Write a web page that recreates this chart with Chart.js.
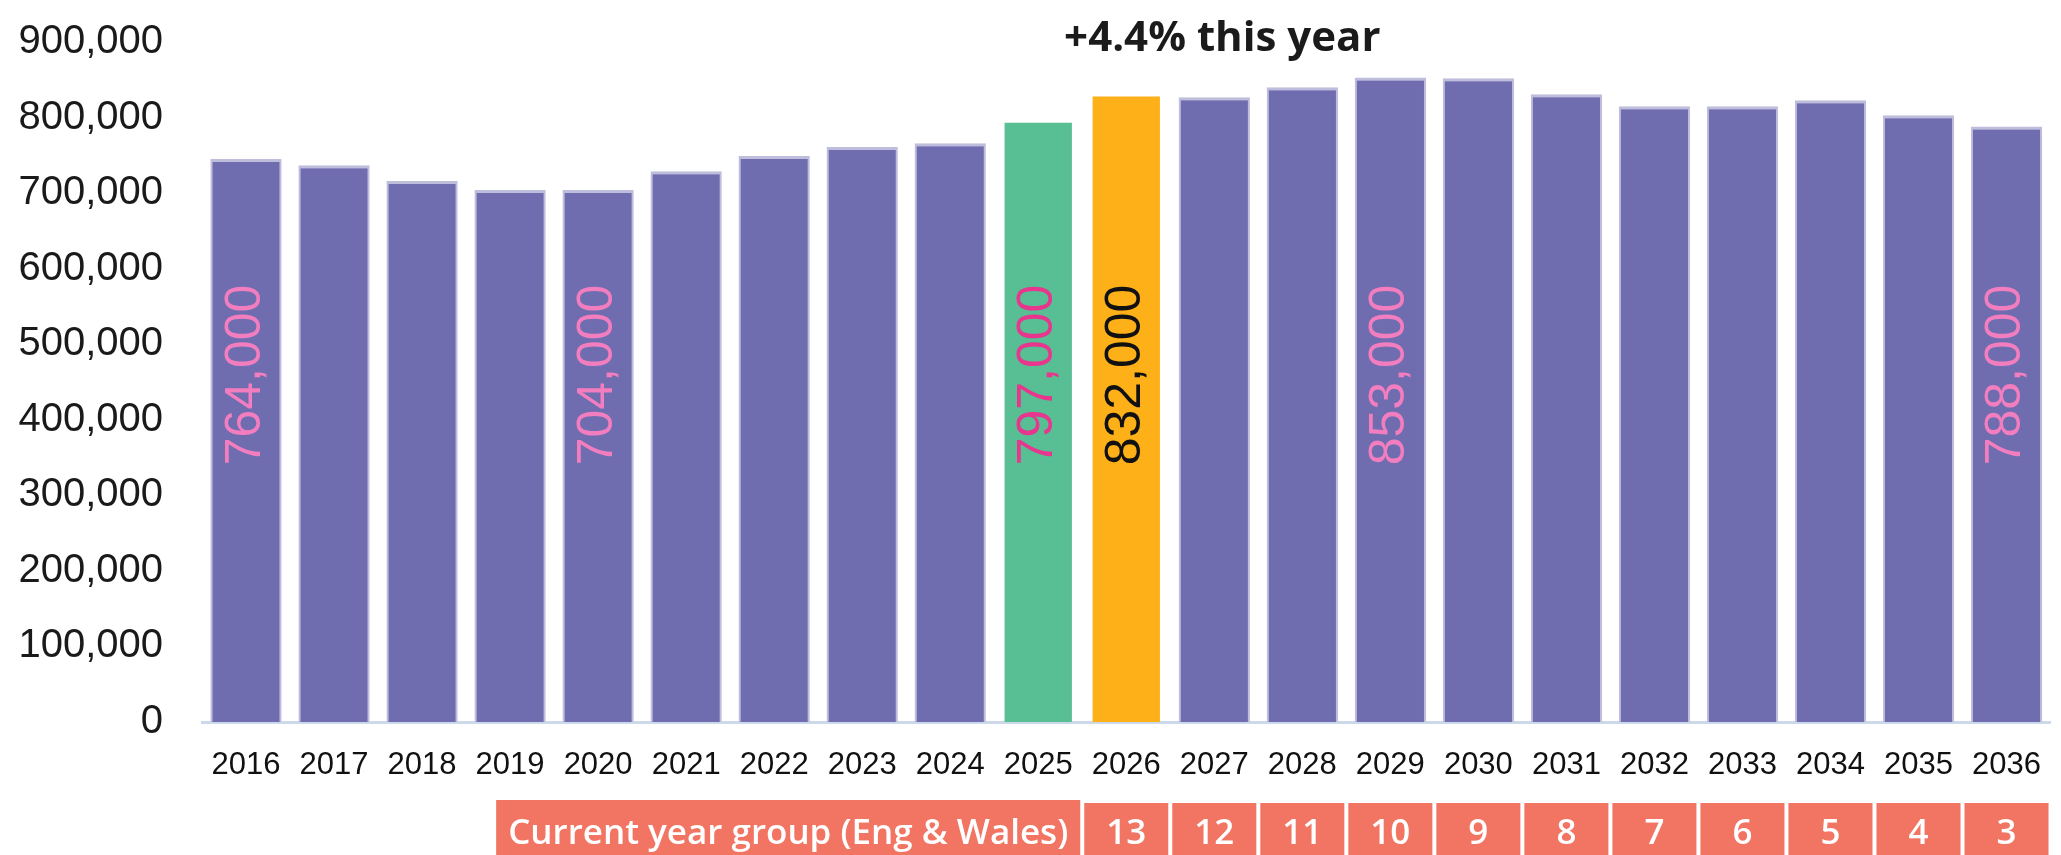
<!DOCTYPE html>
<html>
<head>
<meta charset="utf-8">
<script src="https://cdn.jsdelivr.net/npm/chart.js@4.4.1/dist/chart.umd.min.js"></script>
<style>
  html, body { margin: 0; padding: 0; background: #fff; overflow: hidden; }
  #wrap { width: 2066px; height: 855px; position: relative; }
</style>
</head>
<body>
<div id="wrap"><canvas id="pupilsChart"></canvas></div>
<script>
// Data
const years = ['2016', '2017', '2018', '2019', '2020', '2021', '2022', '2023', '2024', '2025', '2026',
               '2027', '2028', '2029', '2030', '2031', '2032', '2033', '2034', '2035', '2036'];
const pupils = [745000, 737000, 716000, 704000, 704000, 729000, 749000, 761000, 766000, 797000, 832000,
                827000, 840000, 853000, 852000, 831000, 815000, 815000, 823000, 803000, 788000];
const barLabels = ['764,000', null, null, null, '704,000', null, null, null, null, '797,000', '832,000',
                   null, null, '853,000', null, null, null, null, null, null, '788,000'];
const yearGroups = ['13', '12', '11', '10', '9', '8', '7', '6', '5', '4', '3'];
const yearGroupTitle = 'Current year group (Eng & Wales)';
const headline = '+4.4% this year';
const lastYearIndex = 9;   // 2025
const thisYearIndex = 10;  // 2026

const PURPLE = '#6f6db0';
const GREEN = '#58be93';
const ORANGE = '#fdb017';
const SALMON = '#f27462';

const barColours = years.map((y, i) => i === lastYearIndex ? GREEN : (i === thisYearIndex ? ORANGE : PURPLE));
const borderColours = years.map((y, i) => (i === lastYearIndex || i === thisYearIndex) ? 'rgba(0,0,0,0)' : '#bebddc');
const labelColours = years.map((y, i) => i === lastYearIndex ? '#e8358d' : (i === thisYearIndex ? '#111111' : '#f27dbf'));

// rotated value labels inside the bars
const barLabelPlugin = {
    id: 'barLabels',
    afterDatasetsDraw(chart) {
        const ctx = chart.ctx;
        const meta = chart.getDatasetMeta(0);
        const midY = (chart.chartArea.top + chart.chartArea.bottom) / 2 - 7;
        ctx.save();
        ctx.font = '50px "Liberation Sans", Arial, sans-serif';
        ctx.textAlign = 'center';
        ctx.textBaseline = 'middle';
        meta.data.forEach((bar, i) => {
            if (!barLabels[i]) return;
            ctx.save();
            ctx.translate(bar.x, midY);
            ctx.rotate(-Math.PI / 2);
            ctx.fillStyle = labelColours[i];
            ctx.fillText(barLabels[i], 0, 0);
            ctx.restore();
        });
        ctx.restore();
    }
};

// headline and the year-group strip under the axis
const extrasPlugin = {
    id: 'extras',
    afterDraw(chart) {
        const ctx = chart.ctx;
        const x = chart.scales.x;
        const half = (x.getPixelForValue(1) - x.getPixelForValue(0)) / 2;
        ctx.save();

        ctx.fillStyle = '#1b1b1b';
        ctx.font = 'bold 42px "Open Sans", sans-serif';
        ctx.textAlign = 'center';
        ctx.textBaseline = 'middle';
        ctx.fillText(headline, x.getPixelForValue(thisYearIndex + 1) + 8, 39);

        const top = 803;
        ctx.font = '600 35px "Open Sans", sans-serif';
        yearGroups.forEach((g, k) => {
            const c = x.getPixelForValue(thisYearIndex + k);
            ctx.fillStyle = SALMON;
            ctx.fillRect(c - half + 2, top, half * 2 - 4, chart.height - top);
            ctx.fillStyle = '#ffffff';
            ctx.fillText(g, c, 834);
        });

        const right = x.getPixelForValue(thisYearIndex) - half - 2;
        const w = ctx.measureText(yearGroupTitle).width + 24;
        ctx.fillStyle = SALMON;
        ctx.fillRect(right - w, top - 3, w, chart.height - top + 3);
        ctx.fillStyle = '#ffffff';
        ctx.fillText(yearGroupTitle, right - w / 2, 834);

        ctx.restore();
    }
};

const ctx = document.getElementById('pupilsChart').getContext('2d');
new Chart(ctx, {
    type: 'bar',
    data: {
        labels: years,
        datasets: [{
            data: pupils,
            backgroundColor: barColours,
            borderColor: borderColours,
            borderWidth: { top: 3, left: 2, right: 2, bottom: 0 },
            borderSkipped: 'start',
            barPercentage: 0.81,
            categoryPercentage: 1
        }]
    },
    options: {
        responsive: true,
        maintainAspectRatio: false,
        animation: false,
        layout: { padding: { top: 42, left: 0, right: 0, bottom: 0 } },
        plugins: {
            legend: { display: false },
            tooltip: { enabled: false },
            title: { display: false }
        },
        scales: {
            x: {
                grid: { display: false, drawTicks: false },
                border: { display: true, color: '#ccd9ea', width: 3 },
                ticks: {
                    color: '#111111',
                    font: { family: '"Liberation Sans", Arial, sans-serif', size: 31 },
                    padding: 25,
                    maxRotation: 0,
                    autoSkip: false
                },
                afterFit(scale) { scale.height = 133; }
            },
            y: {
                min: 0,
                max: 900000,
                grid: { display: false, drawTicks: false },
                border: { display: false },
                ticks: {
                    stepSize: 100000,
                    color: '#1a1a1a',
                    font: { family: '"Liberation Sans", Arial, sans-serif', size: 40 },
                    padding: 39,
                    callback: v => v.toLocaleString('en-US')
                },
                afterFit(scale) {
                    scale.width = 202;
                    scale.paddingTop = 0;
                    scale.paddingBottom = 0;
                }
            }
        }
    },
    plugins: [barLabelPlugin, extrasPlugin]
});
</script>
</body>
</html>
